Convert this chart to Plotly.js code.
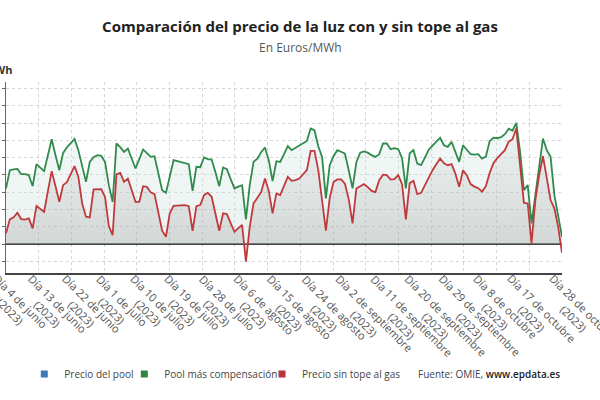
<!DOCTYPE html>
<html>
<head>
<meta charset="utf-8">
<script src="https://cdn.plot.ly/plotly-3.0.1.min.js"></script>
<style>
  html, body { margin: 0; padding: 0; background: #fff; }
  #chart { width: 600px; height: 400px; }
</style>
</head>
<body>
<div id="chart"></div>
<script>
// daily series, 4 jun 2023 -> 28 oct 2023 (Euros/MWh)
var firstDay = '2023-06-04';

var poolCompensacion = [
  64.4, 85.5, 86.4, 87.0, 80.9, 80.9, 79.8, 67.0, 92.5, 88.4,
  84.4, 102.9, 121.4, 102.9, 85.5, 105.5, 112.1, 116.8, 121.7, 108.7,
  90.2, 72.0, 95.1, 100.6, 102.9, 102.1, 95.1, 68.2, 48.9, 116.4,
  112.1, 106.7, 110.6, 99.4, 87.5, 98.3, 109.5, 105.2, 100.9, 101.7,
  82.1, 62.4, 59.3, 78.6, 97.1, 95.9, 94.8, 93.6, 92.5, 61.6,
  89.4, 89.0, 100.2, 98.3, 97.9, 83.2, 67.0, 88.7, 86.7, 75.1,
  64.4, 66.5, 68.2, 28.6, 68.2, 95.1, 98.8, 106.4, 111.8, 97.1,
  72.8, 95.9, 95.1, 104.0, 113.3, 108.7, 111.6, 114.1, 116.8, 119.4,
  133.7, 131.8, 113.3, 100.9, 52.8, 91.3, 101.7, 108.7, 106.9, 104.6,
  85.5, 64.4, 94.8, 105.8, 107.2, 105.8, 102.9, 100.9, 104.0, 116.4,
  116.4, 109.8, 111.0, 109.8, 99.4, 64.4, 105.2, 108.7, 93.1, 91.3,
  100.0, 109.2, 113.9, 118.5, 123.1, 114.4, 112.5, 118.3, 107.5, 95.1,
  114.4, 108.7, 104.0, 103.5, 104.0, 98.8, 101.2, 119.1, 123.1, 122.5,
  123.7, 127.2, 133.5, 131.2, 140.2, 106.4, 62.4, 68.2, 23.9, 56.6,
  90.2, 122.2, 108.7, 101.0, 56.6, 33.5, 8.4
];

var precioSinTope = [
  12.4, 28.6, 30.9, 36.2, 28.9, 28.3, 29.7, 18.1, 44.3, 40.8,
  37.3, 61.3, 84.4, 67.0, 48.9, 68.2, 71.7, 80.9, 90.2, 77.8,
  47.0, 31.6, 30.9, 63.2, 63.3, 63.6, 54.7, 20.8, 10.4, 80.6,
  82.4, 72.0, 75.9, 62.4, 48.9, 48.9, 67.0, 66.2, 59.8, 57.8,
  37.0, 15.4, 8.4, 35.5, 44.3, 44.5, 44.9, 45.1, 43.9, 15.4,
  43.9, 45.1, 56.6, 59.3, 54.7, 35.8, 15.4, 35.5, 34.7, 24.3,
  14.2, 18.5, 22.0, -20.5, 20.0, 47.0, 53.2, 60.1, 75.9, 61.6,
  35.5, 58.6, 56.6, 68.2, 77.8, 73.2, 74.0, 75.9, 80.9, 85.5,
  107.9, 107.9, 85.5, 47.4, 15.4, 53.2, 71.7, 74.8, 74.8, 69.9,
  52.0, 23.9, 64.4, 67.0, 69.4, 65.9, 61.6, 60.1, 74.0, 80.3,
  79.8, 74.6, 75.1, 79.8, 69.4, 28.6, 70.5, 73.2, 57.8, 59.3,
  68.2, 77.5, 85.5, 92.5, 99.1, 93.6, 91.3, 92.5, 81.5, 66.2,
  85.5, 79.8, 69.4, 66.5, 64.7, 60.7, 67.0, 82.1, 93.6, 99.4,
  104.0, 108.7, 118.5, 121.4, 133.7, 91.3, 47.7, 47.0, 0.8, 50.9,
  79.8, 101.7, 77.5, 50.9, 41.3, 19.7, -10.1
];

var tickDates = ['2023-06-04', '2023-06-13', '2023-06-22', '2023-07-01', '2023-07-10',
  '2023-07-19', '2023-07-28', '2023-08-06', '2023-08-15', '2023-08-24', '2023-09-02',
  '2023-09-11', '2023-09-20', '2023-09-29', '2023-10-08', '2023-10-17', '2023-10-28'];
var tickLabels = ['Día 4 de junio', 'Día 13 de junio', 'Día 22 de junio', 'Día 1 de julio',
  'Día 10 de julio', 'Día 19 de julio', 'Día 28 de julio', 'Día 6 de agosto',
  'Día 15 de agosto', 'Día 24 de agosto', 'Día 2 de septiembre', 'Día 11 de septiembre',
  'Día 20 de septiembre', 'Día 29 de septiembre', 'Día 8 de octubre',
  'Día 17 de octubre', 'Día 28 de octubre'];

var seriesNames = ['Precio del pool', 'Pool más compensación', 'Precio sin tope al gas'];
var seriesColors = ['#3b79b9', '#2e8645', '#b3343a'];

// one date per value
var dates = [];
var d0 = new Date(firstDay + 'T00:00:00Z');
for (var i = 0; i < poolCompensacion.length; i++) {
  var d = new Date(d0.getTime() + i * 86400000);
  dates.push(d.toISOString().slice(0, 10));
}

var font = 'Open Sans, sans-serif';

var greenArea = {
  x: dates, y: poolCompensacion,
  type: 'scatter', mode: 'lines',
  line: { color: '#2f8a4c', width: 1.8 },
  fill: 'tozeroy',
  fillgradient: { type: 'vertical', colorscale: [[0, 'rgba(200,218,214,0.35)'], [1, 'rgba(212,232,228,0.3)']] },
  showlegend: false, name: seriesNames[1]
};
var redArea = {
  x: dates, y: precioSinTope,
  type: 'scatter', mode: 'lines',
  line: { color: '#c0393d', width: 1.8 },
  fill: 'tozeroy',
  fillgradient: { type: 'vertical', colorscale: [[0, 'rgba(130,130,130,0.27)'], [1, 'rgba(160,160,160,0.08)']] },
  showlegend: false, name: seriesNames[2]
};

// legend entries (square symbols), one small legend each so they can be placed
var legendNames = ['legend', 'legend2', 'legend3'];
var legendX = [0.0405, 0.2072, 0.4367];
var legendTraces = seriesNames.map(function (n, k) {
  return {
    x: [null], y: [null], type: 'scatter', mode: 'markers', name: n,
    legend: legendNames[k],
    marker: { symbol: 'square', size: 7, color: seriesColors[k] }
  };
});

var annotations = tickDates.map(function (t, k) {
  return {
    x: t, xref: 'x', y: 0, yref: 'paper',
    text: tickLabels[k] + '<br>(2023)',
    textangle: 45, xanchor: 'left', yanchor: 'top', align: 'center',
    showarrow: false, borderpad: 0, xshift: -27, yshift: 3,
    font: { family: font, size: 11, color: '#555' }
  };
});
annotations.push({
  x: (416 - 6) / 556, xref: 'paper', y: (273 - 374) / 191, yref: 'paper',
  xanchor: 'left', yanchor: 'middle', showarrow: false,
  text: 'Fuente: OMIE, <span style="font-weight:600;color:#222">www.epdata.es</span>',
  font: { family: font, size: 10, color: '#444' }
});
annotations.push({
  x: (14 - 6) / 556, xref: 'paper', y: (273 - 70) / 191, yref: 'paper',
  xanchor: 'right', yanchor: 'middle', showarrow: false,
  text: '<b>Euros/MWh</b>',
  font: { family: font, size: 11, color: '#333' }
});
annotations.push({
  x: (300 - 6) / 556, xref: 'paper', y: (273 - 48) / 191, yref: 'paper',
  xanchor: 'center', yanchor: 'middle', showarrow: false,
  text: 'En Euros/MWh',
  font: { family: font, size: 12, color: '#555' }
});

function legendBox(x) {
  return {
    orientation: 'h', xref: 'container', x: x, yref: 'container', y: 0.065,
    xanchor: 'left', yanchor: 'middle', itemwidth: 30, bgcolor: 'rgba(0,0,0,0)',
    font: { family: font, size: 10, color: '#444' }
  };
}

var layout = {
  width: 600, height: 400,
  margin: { l: 6, r: 38, t: 82, b: 127, pad: 0 },
  paper_bgcolor: '#fff', plot_bgcolor: '#fff',
  title: {
    text: '<b>Comparación del precio de la luz con y sin tope al gas</b>',
    font: { family: font, size: 15, color: '#222' },
    x: 0.5, xref: 'container', y: 0.932, yref: 'container', yanchor: 'middle'
  },
  xaxis: {
    type: 'date', range: ['2023-06-04', '2023-10-28'],
    tick0: '2023-06-04', dtick: 742023529,
    showticklabels: false, ticks: '',
    showgrid: true, gridcolor: '#d6d6d6', griddash: 'dot', gridwidth: 1,
    showline: true, linecolor: '#444', linewidth: 1.5,
    zeroline: false, fixedrange: true
  },
  yaxis: {
    range: [-33.5, 187.6], tick0: 0, dtick: 20,
    showticklabels: false, ticks: 'outside', ticklen: 3, tickcolor: '#666',
    showgrid: true, gridcolor: '#d6d6d6', griddash: 'dot', gridwidth: 1,
    showline: true, linecolor: '#666', linewidth: 1,
    zeroline: true, zerolinecolor: '#444', zerolinewidth: 1.5,
    fixedrange: true
  },
  legend: legendBox(legendX[0]),
  legend2: legendBox(legendX[1]),
  legend3: legendBox(legendX[2]),
  annotations: annotations,
  showlegend: true
};

Plotly.newPlot('chart', [greenArea, redArea].concat(legendTraces), layout, { displayModeBar: false, staticPlot: true });
</script>
</body>
</html>
